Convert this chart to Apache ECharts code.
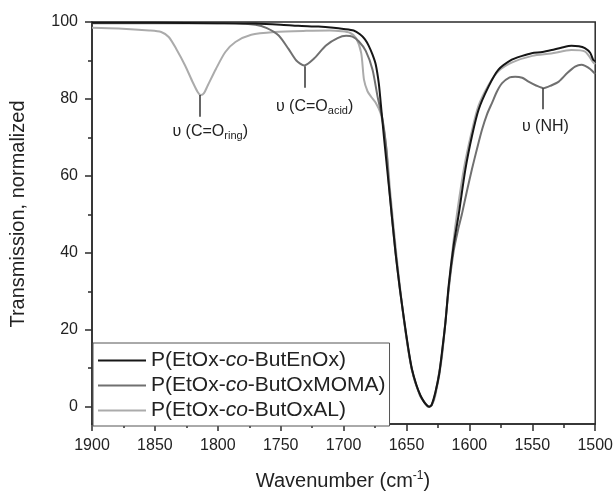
<!DOCTYPE html>
<html>
<head>
<meta charset="utf-8">
<script src="https://cdn.jsdelivr.net/npm/echarts@6/dist/echarts.min.js"></script>
<style>html,body{margin:0;padding:0;background:#fff}#c{width:616px;height:491px}</style>
</head>
<body>
<div id="c"></div>
<script>
const seriesNames = ['P(EtOx-co-ButEnOx)', 'P(EtOx-co-ButOxMOMA)', 'P(EtOx-co-ButOxAL)'];

const enoxWn = [1900,1850,1800,1770,1750,1736,1720,1708,1700,1692,1687,1683,1680,1677,1674.5,1672,1670.5,1668,1664,1658.7,1655,1652,1648.5,1645.7,1642,1638.9,1636,1633.6,1632,1630,1627,1624,1621.8,1619,1616.5,1612.5,1608.5,1603.2,1598,1592.7,1584.8,1576.9,1566.3,1558,1550.5,1542,1534.6,1527,1518.8,1513,1508.2,1504,1501.6,1500];
const enoxT  = [99.8,99.8,99.7,99.6,99.3,99.0,98.8,98.5,98.2,97.8,96.8,95.5,93.8,91.5,89,84,79,70.3,57.3,40,30,22.8,15,9.8,5.5,2.9,1.2,0.3,0,0.5,3.8,8.5,14.2,22,31.4,42,50,61.7,70.3,77.2,83.2,87.6,90.2,91.2,91.9,92.2,92.7,93.3,93.8,93.7,93.2,92,90.2,89.8];

const momaWn = [1900,1850,1800,1786,1770,1761,1751.6,1743.8,1737.6,1731.3,1723.5,1714,1704.8,1698,1693,1688,1682.4,1677,1673,1669,1666,1664,1658.7,1652,1645.7,1638.9,1633.6,1632,1630,1627,1621.8,1616.5,1612.5,1609,1606,1602,1598,1594,1590,1586,1582,1578,1574,1568,1563.6,1558,1553,1547,1541,1535,1529,1522,1516,1511,1508,1504,1500];
const momaT  = [99.7,99.7,99.7,99.7,99.3,98.4,96.5,93,90,88.7,90.5,93.9,95.8,96.4,96.2,95,92.5,87.6,80.6,74.6,67,58,40,22.5,9.6,2.8,0.3,0,0.4,3.6,13.8,30.5,40.5,46,50,56,61.7,67,72,76,79,82,84.1,85.6,85.8,85.5,84.5,83.5,82.8,83.5,84.5,86.8,88.4,88.9,88.6,87.8,86.5];

const alWn = [1900,1879,1854.5,1845,1839,1833,1826,1820,1816,1813.5,1811,1808,1801.5,1794,1786,1773.4,1754.7,1729.8,1711,1701.7,1695,1690,1686,1683.8,1681,1678,1674.5,1670.6,1668,1665,1663,1658,1652,1646,1639.5,1634,1632.5,1630,1627,1622,1617,1613,1609.5,1604,1598.5,1593,1585,1577,1566,1550,1535,1519,1508,1501.6,1500];
const alT  = [98.5,98.3,97.8,97.4,96.1,93,88.7,84.4,81.8,81.0,81.5,83.5,87.8,92.2,94.8,96.7,97.4,97.7,97.8,97.6,97.2,95.8,91.9,85,82,80.5,79,76.3,72,64,56,39.5,22.5,10,3,0.3,0,0.3,3,12.5,29,42,51,62.5,71,78,83.5,87.2,89.5,91.2,91.8,92.7,92.3,89.5,89];

const xTicks = [1900,1850,1800,1750,1700,1650,1600,1550,1500];
const yTicks = [0,20,40,60,80,100];
const yMinorTicks = [10,30,50,70,90];

// annotations: [wavenumber, top value, bottom value]
const ringMark = [1814, 81, 75.4];
const acidMark = [1731, 88.5, 82.9];
const nhMark = [1542, 82.8, 77.3];

const FONT = 'Liberation Sans, Arial, Helvetica, sans-serif';
const pairs = (xs, ys) => xs.map((x, i) => [x, ys[i]]);

const chart = echarts.init(document.getElementById('c'), null, {renderer: 'canvas'});
const annoRich = {
  m: {fontSize: 16, fontFamily: FONT, color: '#222', lineHeight: 20},
  s: {fontSize: 11, fontFamily: FONT, color: '#222', verticalAlign: 'bottom', padding: [9, 0, 0, 0], lineHeight: 12}
};
function mark(m, fmt, dist, pad) {
  return [
    {coord: [m[0], m[1]], label: {show: true, position: 'end', formatter: fmt, distance: dist, rich: annoRich, padding: pad}},
    {coord: [m[0], m[2]]}
  ];
}
const mlBase = {silent: true, symbol: ['none', 'none'], animation: false,
  lineStyle: {color: '#333', width: 1.5, type: 'solid'}};

const colors = ['#161616', '#707070', '#ababab'];

chart.setOption({
  animation: false,
  backgroundColor: '#fff',
  textStyle: {fontFamily: FONT},
  grid: {left: 92, right: 19, top: 22, bottom: 67, show: true, borderColor: '#2b2b2b', borderWidth: 1.5, backgroundColor: 'transparent'},
  xAxis: {
    type: 'value', min: 1500, max: 1900, interval: 50, inverse: true,
    axisLine: {show: true, onZero: false, lineStyle: {color: '#2b2b2b', width: 1.5}},
    axisTick: {show: true, inside: false, length: 7, lineStyle: {color: '#2b2b2b', width: 1.5}},
    minorTick: {show: true, splitNumber: 2, length: 4, lineStyle: {color: '#2b2b2b', width: 1.5}},
    axisLabel: {fontSize: 16, color: '#222', margin: 14, fontFamily: FONT, formatter: v => String(v)},
    splitLine: {show: false}
  },
  yAxis: [{
    type: 'value', min: -4.5, max: 100,
    axisLine: {show: true, onZero: false, lineStyle: {color: '#2b2b2b', width: 1.5}},
    axisTick: {show: true, inside: false, length: 7, customValues: yTicks, lineStyle: {color: '#2b2b2b', width: 1.5}},
    axisLabel: {fontSize: 16, color: '#222', margin: 14, customValues: yTicks, fontFamily: FONT},
    splitLine: {show: false}
  }, {
    type: 'value', min: -4.5, max: 100, position: 'left',
    axisLine: {show: false, onZero: false},
    axisTick: {show: true, inside: false, length: 4, customValues: yMinorTicks, lineStyle: {color: '#2b2b2b', width: 1.5}},
    axisLabel: {show: false},
    splitLine: {show: false}
  }],
  legend: {
    orient: 'vertical', left: 93, top: 343,
    padding: [7, 4, 5, 4], itemGap: 4, itemWidth: 48, itemHeight: 20,
    borderColor: '#555', borderWidth: 1, backgroundColor: '#fff',
    itemStyle: {opacity: 0},
    data: seriesNames,
    formatter: n => { const p = n.split('-co-'); return '{n|' + p[0] + '-}{i|co}{n|-' + p[1] + '}'; },
    textStyle: {fontSize: 21, color: '#222', fontFamily: FONT,
      rich: {n: {fontSize: 21, color: '#222', fontFamily: FONT}, i: {fontSize: 21, color: '#222', fontStyle: 'italic', fontFamily: FONT}}}
  },
  series: [
    {name: seriesNames[2], type: 'line', data: pairs(alWn, alT), symbol: 'none', smooth: 0.25, z: 2,
      lineStyle: {color: colors[2], width: 2}, itemStyle: {color: colors[2]},
      markLine: Object.assign({}, mlBase, {data: [mark(ringMark, '{m|υ (C=O}{s|ring}{m|)}', 5, [0, 0, 0, 20])]})},
    {name: seriesNames[1], type: 'line', data: pairs(momaWn, momaT), symbol: 'none', smooth: 0.25, z: 3,
      lineStyle: {color: colors[1], width: 2}, itemStyle: {color: colors[1]},
      markLine: Object.assign({}, mlBase, {data: [mark(acidMark, '{m|υ (C=O}{s|acid}{m|)}', 9, [0, 0, 0, 20]), mark(nhMark, '{m|υ (NH)}', 7, [0, 0, 0, 6])]})},
    {name: seriesNames[0], type: 'line', data: pairs(enoxWn, enoxT), symbol: 'none', smooth: 0.25, z: 4,
      lineStyle: {color: colors[0], width: 2}, itemStyle: {color: colors[0]}}
  ],
  graphic: [
    {type: 'text', x: 18, y: 214, rotation: Math.PI / 2,
      style: {text: 'Transmission, normalized', font: '20px ' + FONT, fill: '#222', align: 'center', verticalAlign: 'middle'}},
    {type: 'text', x: 343, y: 481,
      style: {text: '{a|Wavenumber (cm}{b|-1}{a|)}', align: 'center', verticalAlign: 'middle', fill: '#222',
        rich: {a: {fontSize: 20, fontFamily: FONT, fill: '#222', lineHeight: 22}, b: {fontSize: 12, fontFamily: FONT, fill: '#222', verticalAlign: 'top', padding: [0, 0, 8, 0]}}}}
  ]
});
</script>
</body>
</html>
